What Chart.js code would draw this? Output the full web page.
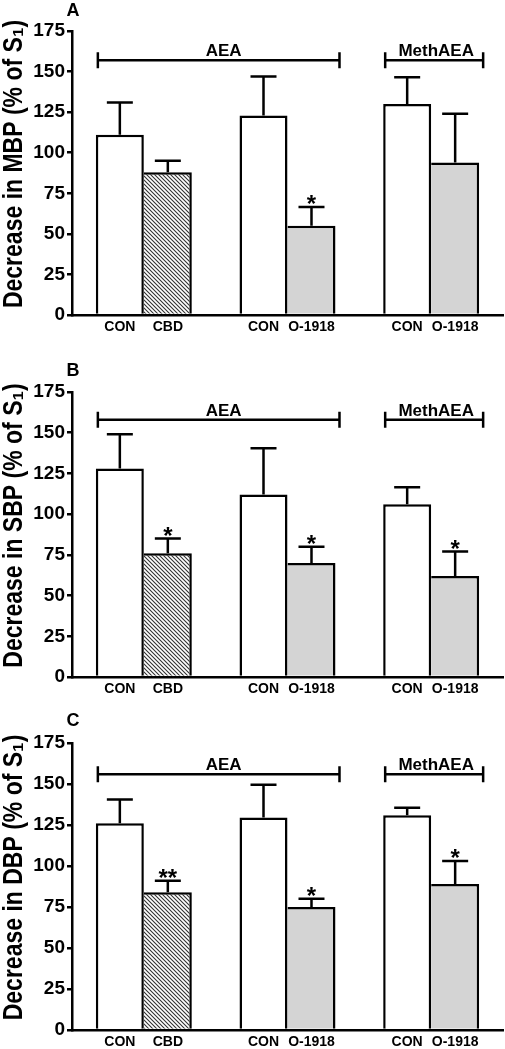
<!DOCTYPE html>
<html><head><meta charset="utf-8">
<script src="https://cdn.jsdelivr.net/npm/chart.js@4.4.1/dist/chart.umd.min.js"></script>
<style>
html,body{margin:0;padding:0;background:#fff;}
#wrap{position:relative;width:505px;height:1049px;overflow:hidden;}
canvas{position:absolute;left:0;display:block;}
</style></head><body>
<div id="wrap">
<canvas id="cA" width="505" height="340" style="top:0px"></canvas>
<canvas id="cB" width="505" height="360" style="top:340px"></canvas>
<canvas id="cC" width="505" height="349" style="top:700px"></canvas>
</div>
<script>
// ---- data ----
const groups = ['AEA / CBD', 'AEA / O-1918', 'MethAEA / O-1918'];
const conLabels = ['CON', 'CON', 'CON'];
const treatLabels = ['CBD', 'O-1918', 'O-1918'];
const yTickStep = 25;
const yMax = 175;
const bracketNames = ['AEA', 'MethAEA'];
const bracketFrom = [0, 2];
const bracketTo = [1, 2];

// Panel A: MBP
const mbpCon = [111, 123, 130];
const mbpConErr = [20, 24, 16.5];
const mbpTreat = [88, 55, 94];
const mbpTreatErr = [7, 11.5, 30];
const mbpSig = ['', '*', ''];
const mbpBracket = 157;

// Panel B: SBP
const sbpCon = [128, 112, 106];
const sbpConErr = [21, 28.5, 10.5];
const sbpTreat = [76, 70, 62];
const sbpTreatErr = [9, 10, 15];
const sbpSig = ['*', '*', '*'];
const sbpBracket = 158;

// Panel C: DBP
const dbpCon = [126, 129.5, 131];
const dbpConErr = [14.5, 20, 4.5];
const dbpTreat = [84, 75, 89];
const dbpTreatErr = [7, 5, 14];
const dbpSig = ['**', '*', '*'];
const dbpBracket = 156;

// ---- styling ----
const FAM = "'Liberation Sans', Arial, Helvetica, sans-serif";
const GRAY = '#d4d4d4';

function makeHatch() {
  const c = document.createElement('canvas');
  c.width = 4; c.height = 4;
  const g = c.getContext('2d');
  g.fillStyle = '#fff'; g.fillRect(0, 0, 4, 4);
  g.strokeStyle = '#333'; g.lineWidth = 1.1;
  g.beginPath();
  g.moveTo(-1, -1); g.lineTo(5, 5);
  g.moveTo(3, -1); g.lineTo(5, 1);
  g.moveTo(-1, 3); g.lineTo(1, 5);
  g.stroke();
  return g.createPattern(c, 'repeat');
}
const HATCH = makeHatch();

const annot = {
  id: 'annot',
  afterDatasetsDraw(chart, args, o) {
    const ctx = chart.ctx, y = chart.scales.y, area = chart.chartArea;
    ctx.save();
    ctx.strokeStyle = '#000'; ctx.fillStyle = '#000';
    ctx.lineWidth = 2.5; ctx.lineCap = 'butt';
    chart.data.datasets.forEach((ds, di) => {
      const meta = chart.getDatasetMeta(di);
      meta.data.forEach((bar, i) => {
        const top = y.getPixelForValue(ds.data[i]);
        const et = y.getPixelForValue(ds.data[i] + ds.err[i]);
        ctx.beginPath();
        ctx.moveTo(bar.x, top); ctx.lineTo(bar.x, et);
        ctx.moveTo(bar.x - 13, et); ctx.lineTo(bar.x + 13, et);
        ctx.stroke();
        if (ds.sig && ds.sig[i]) {
          ctx.font = 'bold 24px ' + FAM;
          ctx.textAlign = 'center'; ctx.textBaseline = 'alphabetic';
          ctx.fillText(ds.sig[i], bar.x, et + 5);
        }
        ctx.font = 'bold 14px ' + FAM;
        ctx.textAlign = 'center'; ctx.textBaseline = 'middle';
        ctx.fillText(ds.tickText[i], bar.x, area.bottom + 12);
      });
    });
    // brackets
    const m0 = chart.getDatasetMeta(0), m1 = chart.getDatasetMeta(1);
    const by = y.getPixelForValue(o.level);
    bracketNames.forEach((name, k) => {
      const b0 = m0.data[bracketFrom[k]], b1 = m1.data[bracketTo[k]];
      const l = b0.x - b0.width / 2 + 2, r = b1.x + b1.width / 2 + 4;
      ctx.beginPath();
      ctx.moveTo(l, by); ctx.lineTo(r, by);
      ctx.moveTo(l, by - 8); ctx.lineTo(l, by + 8);
      ctx.moveTo(r, by - 8); ctx.lineTo(r, by + 8);
      ctx.stroke();
      ctx.font = 'bold 17px ' + FAM;
      ctx.textAlign = 'center'; ctx.textBaseline = 'alphabetic';
      ctx.fillText(name, (l + r) / 2 + (k === 0 ? 5 : 2), by - 4);
    });
    // panel letter
    ctx.font = 'bold 18px ' + FAM;
    ctx.textAlign = 'center'; ctx.textBaseline = 'middle';
    ctx.fillText(o.letter, 73, o.letterY);
    // y axis title (rotated, slightly widened like the original)
    ctx.save();
    ctx.translate(14, (area.top + area.bottom) / 2 - 9);
    ctx.rotate(-Math.PI / 2);
    ctx.scale(1, 1.2);
    ctx.font = 'bold 23px ' + FAM;
    ctx.textAlign = 'center'; ctx.textBaseline = 'middle';
    ctx.fillText(o.title, 0, 0);
    ctx.restore();
    ctx.restore();
  }
};

function makeChart(id, H, areaTop, areaBottom, title, con, conErr, treat, treatErr, sig, level, letter, letterY) {
  return new Chart(document.getElementById(id), {
    type: 'bar',
    data: {
      labels: groups,
      datasets: [
        { data: con, err: conErr, tickText: conLabels, sig: ['', '', ''],
          backgroundColor: '#fff', borderColor: '#000',
          borderWidth: { top: 2.5, left: 2.5, right: 2.5, bottom: 0 } },
        { data: treat, err: treatErr, tickText: treatLabels, sig: sig,
          backgroundColor: [HATCH, GRAY, GRAY], borderColor: '#000',
          borderWidth: { top: 2.5, left: 0, right: 2.5, bottom: 0 } }
      ]
    },
    options: {
      responsive: false, animation: false, events: [],
      layout: { padding: { top: areaTop, right: 2, left: 0, bottom: 0 } },
      datasets: { bar: { barPercentage: 1, categoryPercentage: 0.668, inflateAmount: 0, borderSkipped: false } },
      plugins: { legend: { display: false }, tooltip: { enabled: false },
        annot: { level: level, letter: letter, letterY: letterY, title: title } },
      scales: {
        x: {
          offset: true,
          grid: { display: false, drawTicks: false },
          border: { display: true, color: '#000', width: 2.5 },
          ticks: { display: false },
          afterFit(s) { s.height = H - areaBottom; }
        },
        y: {
          min: 0, max: yMax,
          ticks: { stepSize: yTickStep, color: '#000', padding: 2,
            font: { family: FAM, size: 19, weight: 'bold' } },
          grid: { drawOnChartArea: false, drawTicks: true, tickLength: 5, color: '#000', lineWidth: 2.5 },
          border: { display: true, color: '#000', width: 2.5 },
          title: { display: false, text: title },
          afterFit(s) { s.width = 72; }
        }
      }
    },
    plugins: [annot]
  });
}

makeChart('cA', 340, 31, 315, 'Decrease in MBP (% of S\u2081)', mbpCon, mbpConErr, mbpTreat, mbpTreatErr, mbpSig, mbpBracket, 'A', 11);
makeChart('cB', 360, 52, 337, 'Decrease in SBP (% of S\u2081)', sbpCon, sbpConErr, sbpTreat, sbpTreatErr, sbpSig, sbpBracket, 'B', 31);
makeChart('cC', 349, 43, 330, 'Decrease in DBP (% of S\u2081)', dbpCon, dbpConErr, dbpTreat, dbpTreatErr, dbpSig, dbpBracket, 'C', 21);
</script>
</body></html>
